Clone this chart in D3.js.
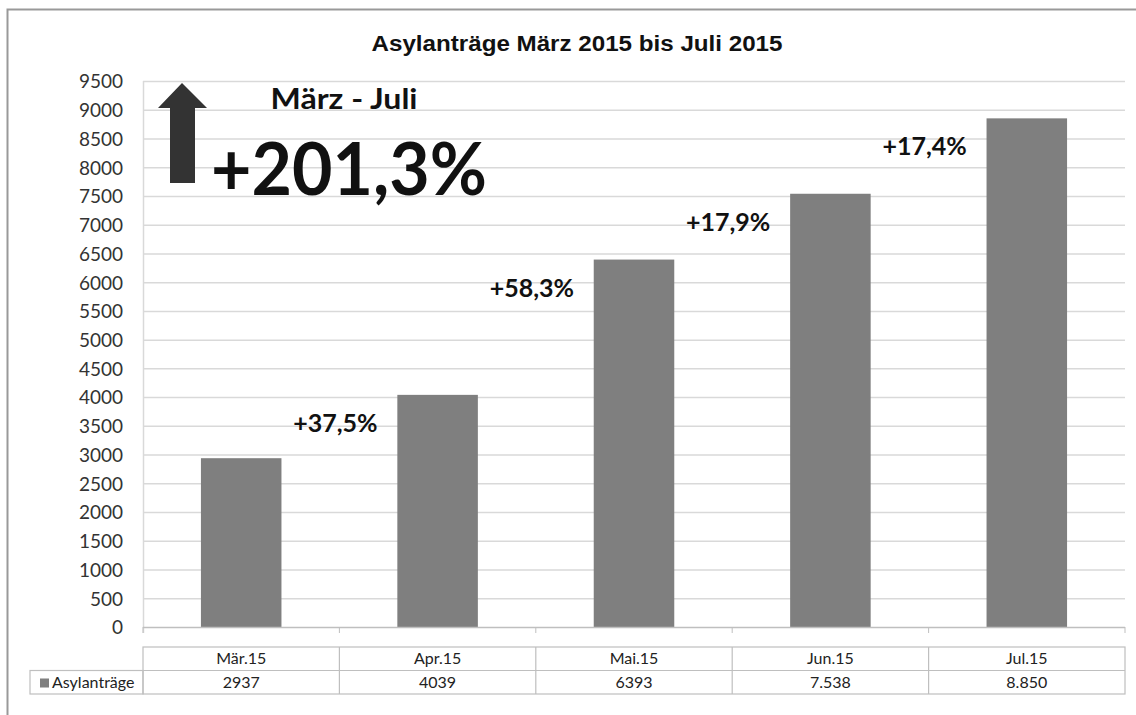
<!DOCTYPE html>
<html>
<head>
<meta charset="utf-8">
<script src="https://cdn.jsdelivr.net/npm/d3@7"></script>
<style>
  body { margin: 0; background: #fff; }
  text { font-family: Lato, "Liberation Sans", sans-serif; }
  .title { font-family: "Liberation Sans", Arial, sans-serif; font-weight: bold; font-size: 22px; fill: #111; }
  .ytick text { font-family: Lato, sans-serif; font-size: 19px; fill: #333; }
  .tbl { font-size: 16px; fill: #222; }
  .pct { font-weight: bold; font-size: 25px; fill: #111; }
</style>
</head>
<body>
<div id="viz"></div>
<script>
var months = ['Mär.15', 'Apr.15', 'Mai.15', 'Jun.15', 'Jul.15'];
var values = [2937, 4039, 6393, 7538, 8850];
var tableLabels = ['2937', '4039', '6393', '7.538', '8.850'];
var changeLabels = ['', '+37,5%', '+58,3%', '+17,9%', '+17,4%'];
var yTicks = d3.range(0, 9501, 500);
var seriesName = 'Asylanträge';

var width = 1136, height = 715;
var margin = {top: 81, right: 11, bottom: 88, left: 143};

var svg = d3.select("#viz")
    .append("svg")
    .attr("width", width)
    .attr("height", height);

// chart frame
svg.append('path')
    .attr('d', 'M7.5,' + height + 'V9.5H' + width)
    .attr('fill', 'none')
    .attr('stroke', '#999')
    .attr('stroke-width', 2);

svg.append('text')
    .attr('class', 'title')
    .attr('x', 577)
    .attr('y', 51)
    .attr('text-anchor', 'middle')
    .attr('textLength', 411)
    .attr('lengthAdjust', 'spacingAndGlyphs')
    .text('Asylanträge März 2015 bis Juli 2015');

var x = d3.scaleBand()
    .domain(months)
    .range([margin.left, width - margin.right])
    .paddingInner(0.59)
    .paddingOuter(0.295);

var y = d3.scaleLinear()
    .domain([0, 9500])
    .range([height - margin.bottom, margin.top]);

var step = x.step();
var x0 = margin.left;
var x1 = width - margin.right;

// grid lines
svg.append('g')
    .selectAll('line')
    .data(yTicks.filter(function(d) { return d > 0; }))
    .enter().append('line')
    .attr('x1', x0).attr('x2', x1)
    .attr('y1', function(d) { return y(d) + 0.5; })
    .attr('y2', function(d) { return y(d) + 0.5; })
    .attr('stroke', '#d9d9d9')
    .attr('stroke-width', 1.5);

// y axis labels
var yAxis = svg.append('g')
    .attr('class', 'ytick')
    .attr('transform', 'translate(123,0)')
    .call(d3.axisLeft(y).tickValues(yTicks).tickFormat(d3.format('d')).tickSize(0).tickPadding(0));
yAxis.select('.domain').remove();
yAxis.selectAll('text').attr('dy', '0.36em');

// vertical axis line
svg.append('line')
    .attr('x1', x0 + 0.5).attr('x2', x0 + 0.5)
    .attr('y1', margin.top).attr('y2', y(0) + 6)
    .attr('stroke', '#d9d9d9').attr('stroke-width', 1.5);

// bars
svg.append('g')
    .selectAll('rect')
    .data(values)
    .enter().append('rect')
    .attr('x', function(d, i) { return x(months[i]); })
    .attr('y', function(d) { return y(d); })
    .attr('width', x.bandwidth())
    .attr('height', function(d) { return y(0) - y(d); })
    .attr('fill', '#7f7f7f');

// category axis line + boundary ticks
svg.append('line')
    .attr('x1', x0).attr('x2', x1)
    .attr('y1', y(0) + 0.5).attr('y2', y(0) + 0.5)
    .attr('stroke', '#bfbfbf').attr('stroke-width', 1.5);
svg.append('g')
    .selectAll('line')
    .data(d3.range(0, months.length + 1))
    .enter().append('line')
    .attr('x1', function(i) { return x0 + i * step; })
    .attr('x2', function(i) { return x0 + i * step; })
    .attr('y1', y(0)).attr('y2', y(0) + 6)
    .attr('stroke', '#bfbfbf');

// data table
var rowTop = 647, rowH = 23.5;
var tbl = svg.append('g').attr('stroke', '#bfbfbf').attr('stroke-width', 1.2).attr('fill', 'none');
tbl.append('rect').attr('x', x0).attr('y', rowTop).attr('width', x1 - x0).attr('height', rowH * 2);
tbl.append('rect').attr('x', 30).attr('y', rowTop + rowH).attr('width', x0 - 30).attr('height', rowH);
tbl.append('line').attr('x1', x0).attr('x2', x1).attr('y1', rowTop + rowH).attr('y2', rowTop + rowH);
tbl.selectAll('line.col')
    .data(d3.range(1, months.length))
    .enter().append('line')
    .attr('class', 'col')
    .attr('x1', function(i) { return x0 + i * step; })
    .attr('x2', function(i) { return x0 + i * step; })
    .attr('y1', rowTop).attr('y2', rowTop + rowH * 2);

svg.append('g')
    .selectAll('text')
    .data(months)
    .enter().append('text')
    .attr('class', 'tbl')
    .attr('text-anchor', 'middle')
    .attr('x', function(d) { return x(d) + x.bandwidth() / 2; })
    .attr('y', rowTop + 17)
    .text(function(d) { return d; });
svg.append('g')
    .selectAll('text')
    .data(tableLabels)
    .enter().append('text')
    .attr('class', 'tbl')
    .attr('text-anchor', 'middle')
    .attr('x', function(d, i) { return x(months[i]) + x.bandwidth() / 2; })
    .attr('y', rowTop + rowH + 17)
    .text(function(d) { return d; });
svg.append('rect')
    .attr('x', 40).attr('y', rowTop + rowH + 8)
    .attr('width', 9).attr('height', 9)
    .attr('fill', '#7f7f7f');
svg.append('text')
    .attr('class', 'tbl')
    .attr('x', 52)
    .attr('y', rowTop + rowH + 17)
    .text(seriesName);

// change labels between bars
svg.append('g')
    .selectAll('text')
    .data(changeLabels)
    .enter().append('text')
    .attr('class', 'pct')
    .attr('text-anchor', 'middle')
    .attr('x', function(d, i) { return x0 + i * step - 4; })
    .attr('y', function(d, i) { return y(values[i]) + 37; })
    .text(function(d) { return d; });

// total increase annotation
svg.append('path')
    .attr('d', 'M182,83 L207,108 L195,108 L195,183 L170,183 L170,108 L158,108 Z')
    .attr('fill', '#333');
svg.append('text')
    .attr('x', 344).attr('y', 109)
    .attr('text-anchor', 'middle')
    .attr('font-weight', 'bold')
    .attr('font-size', 29)
    .attr('fill', '#111')
    .attr('textLength', 147)
    .attr('lengthAdjust', 'spacingAndGlyphs')
    .text('März - Juli');
svg.append('text')
    .attr('x', 349).attr('y', 195)
    .attr('text-anchor', 'middle')
    .attr('font-weight', 'bold')
    .attr('font-size', 73)
    .attr('fill', '#111')
    .attr('textLength', 276)
    .attr('lengthAdjust', 'spacingAndGlyphs')
    .text('+' + d3.format('.1f')((values[4] - values[0]) / values[0] * 100).replace('.', ',') + '%');
</script>
</body>
</html>
